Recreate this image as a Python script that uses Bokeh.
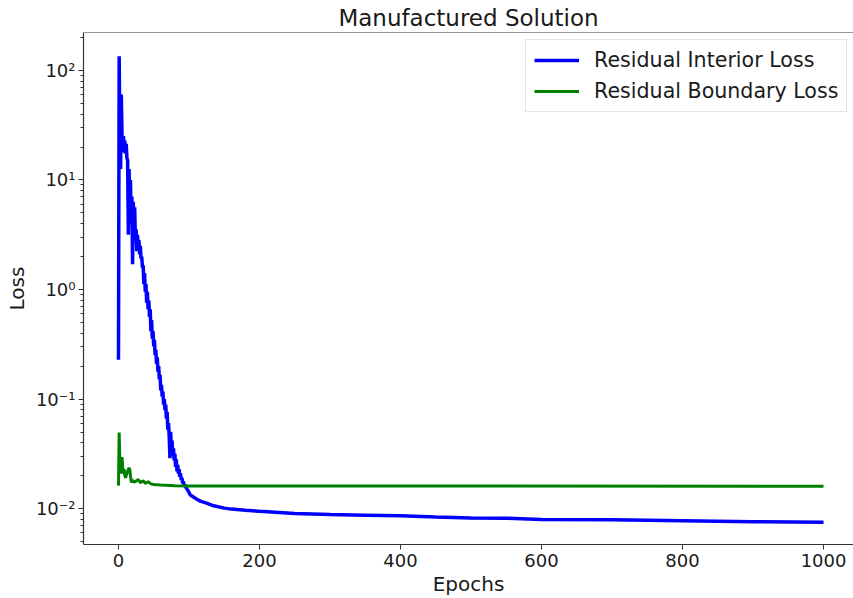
from bokeh.plotting import figure
from bokeh.models import Range1d, FixedTicker, Legend, LegendItem, Span
from bokeh.embed import file_html
from bokeh.resources import INLINE

# ---- data ----
interior_epochs = list(range(0, 101)) + [102, 110, 116, 125, 135, 150, 160, 180, 200, 250,
                                         300, 350, 400, 450, 500, 550, 600, 700, 800, 900, 1000]
interior_loss = [
    0.229, 135, 25.1, 12.6, 60.3, 26.3, 17.8, 25.1, 20.0, 22.9,
    17.4, 21.4, 15.8, 15.1, 3.16, 12.6, 6.31, 10.0, 3.98, 7.08,
    1.70, 6.31, 3.55, 5.62, 2.82, 3.55, 2.24, 3.16, 2.40, 2.82,
    2.09, 2.51, 1.91, 2.00, 1.58, 1.66, 1.12, 1.41, 0.955, 1.12,
    0.759, 0.955, 0.661, 0.794, 0.562, 0.661, 0.417, 0.525, 0.355, 0.417,
    0.302, 0.347, 0.251, 0.282, 0.209, 0.240, 0.178, 0.200, 0.151, 0.166,
    0.120, 0.135, 0.105, 0.117, 0.0891, 0.100, 0.0794, 0.0891, 0.0661, 0.0759,
    0.0525, 0.0603, 0.0447, 0.0288, 0.0501, 0.0355, 0.0417, 0.0302, 0.0355, 0.0275,
    0.0316, 0.0240, 0.0282, 0.0219, 0.0251, 0.0209, 0.0229, 0.0195, 0.0209, 0.0182,
    0.0191, 0.0170, 0.0178, 0.0162, 0.0166, 0.0158, 0.0155, 0.0151, 0.0148, 0.0145,
    0.0140,
    0.0133, 0.0123, 0.0117, 0.0112, 0.0106, 0.0101, 0.00989, 0.00966, 0.00944, 0.00902,
    0.00881, 0.00871, 0.00861, 0.00836, 0.00822, 0.00817, 0.00794, 0.00789, 0.00776, 0.00759,
    0.00750,
]

boundary_epochs = list(range(0, 21)) + [22, 25, 28, 31, 35, 38, 42, 46, 50, 60, 80, 100, 1000]
boundary_loss = [
    0.0162, 0.0495, 0.0251, 0.0209, 0.0282, 0.0295, 0.0240, 0.0209, 0.0229, 0.0200,
    0.0191, 0.0200, 0.0209, 0.0219, 0.0229, 0.0234, 0.0229, 0.0200, 0.0178, 0.0174,
    0.0182, 0.0174, 0.0178, 0.0184, 0.0172, 0.0180, 0.0170, 0.0176, 0.0168, 0.0166,
    0.0164, 0.0162, 0.0161, 0.0160,
]

x_ticks = [0, 200, 400, 600, 800, 1000]
y_ticks = [0.01, 0.1, 1, 10, 100]
y_tick_labels = ["10\u207b\u00b2", "10\u207b\u00b9", "10\u2070", "10\u00b9", "10\u00b2"]
y_minor = [m * 10.0 ** e for e in range(-3, 3) for m in range(2, 10)]

series_names = ["Residual Interior Loss", "Residual Boundary Loss"]
series_colors = ["#0000ff", "#008000"]

FONT = "DejaVu Sans"
Y_TOP = 222

p = figure(width=853, height=598, y_axis_type="log", output_backend="svg",
           toolbar_location=None,
           x_range=Range1d(-49.6, 1042.5), y_range=Range1d(0.0047, Y_TOP),
           min_border_left=83, min_border_right=0, min_border_top=31, min_border_bottom=54)

p.title.text = "Manufactured Solution"
p.title.align = "center"
p.title.text_font = FONT
p.title.text_font_size = "23px"
p.title.text_font_style = "normal"
p.title.text_color = "#1a1a1a"
p.title.standoff = 4

p.xgrid.grid_line_color = None
p.ygrid.grid_line_color = None
p.outline_line_color = None
p.background_fill_color = "white"
p.border_fill_color = "white"

# top spine (right spine lies outside the cropped reference)
p.add_layout(Span(location=Y_TOP, dimension="width", line_color="#333333", line_width=1.2))

r1 = p.line(interior_epochs, interior_loss, line_color=series_colors[0], line_width=3.5)
r2 = p.line(boundary_epochs, boundary_loss, line_color=series_colors[1], line_width=3)

for ax in (p.xaxis[0], p.yaxis[0]):
    ax.axis_line_color = "#333333"
    ax.axis_line_width = 1.2
    ax.major_tick_line_color = "#333333"
    ax.minor_tick_line_color = "#333333"
    ax.major_tick_in = 0
    ax.major_tick_out = 5
    ax.minor_tick_in = 0
    ax.minor_tick_out = 3
    ax.major_label_text_font = FONT
    ax.major_label_text_font_size = "18px"
    ax.major_label_text_color = "#1a1a1a"
    ax.axis_label_text_font = FONT
    ax.axis_label_text_font_size = "20px"
    ax.axis_label_text_font_style = "normal"
    ax.axis_label_text_color = "#1a1a1a"

p.xaxis.ticker = FixedTicker(ticks=x_ticks, minor_ticks=[])
p.xaxis.axis_label = "Epochs"
p.xaxis.major_label_standoff = 4
p.xaxis.axis_label_standoff = 2

p.yaxis.ticker = FixedTicker(ticks=y_ticks, minor_ticks=y_minor)
p.yaxis.major_label_overrides = dict(zip(y_ticks, y_tick_labels))
p.yaxis.axis_label = "Loss"
p.yaxis.major_label_standoff = 3
p.yaxis.axis_label_standoff = 4

legend = Legend(items=[LegendItem(label=series_names[0], renderers=[r1]),
                       LegendItem(label=series_names[1], renderers=[r2])],
                location=(442, 432), margin=0)
legend.label_text_font = FONT
legend.label_text_font_size = "20.6px"
legend.label_text_color = "#1a1a1a"
legend.glyph_width = 45
legend.glyph_height = 24
legend.label_height = 24
legend.label_standoff = 15
legend.spacing = 7
legend.padding = 8
legend.border_line_color = "#cccccc"
legend.border_line_width = 1
legend.background_fill_alpha = 0.9
p.add_layout(legend)

open("out.html", "w").write(file_html(p, INLINE))
